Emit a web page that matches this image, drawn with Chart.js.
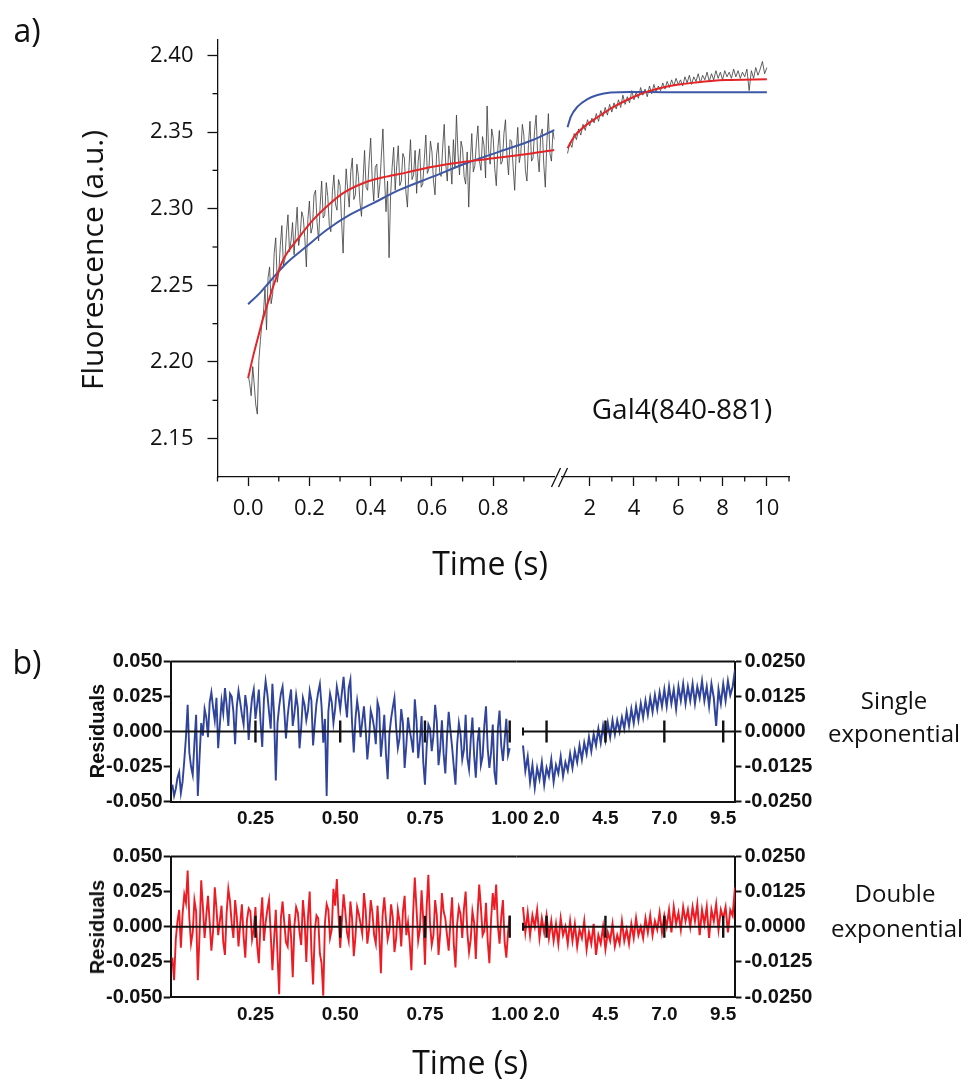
<!DOCTYPE html>
<html>
<head>
<meta charset="utf-8">
<script src="https://cdn.jsdelivr.net/npm/chart.js@4.4.1/dist/chart.umd.min.js"></script>
<style>
  body { margin: 0; background: #fff; }
  #page { position: relative; width: 968px; height: 1080px; overflow: hidden; font-family: 'Open Sans', sans-serif; color: #111; }
  #page canvas { position: absolute; left: 0; top: 0; }
  .t { position: absolute; white-space: nowrap; line-height: 1; transform: translate(-50%, -50%); }
  .rot { transform: translate(-50%, -50%) rotate(-90deg); }
  .res { font-family: 'Liberation Sans', Arial, sans-serif; font-weight: bold; font-size: 20px; }
  .note { font-size: 24px; text-align: center; }
</style>
</head>
<body>
<div id="page">
  <canvas id="topL" width="968" height="1080"></canvas>
  <canvas id="topR" width="968" height="1080"></canvas>
  <canvas id="r1L" width="968" height="1080"></canvas>
  <canvas id="r1R" width="968" height="1080"></canvas>
  <canvas id="r2L" width="968" height="1080"></canvas>
  <canvas id="r2R" width="968" height="1080"></canvas>

  <div class="t" style="left:27px; top:30px; font-size:32px;">a)</div>
  <div class="t rot" style="left:92px; top:260px; font-size:30px;">Fluorescence (a.u.)</div>
  <div class="t" style="left:682px; top:408px; font-size:28px;">Gal4(840-881)</div>
  <div class="t" style="left:490px; top:563px; font-size:32px;">Time (s)</div>

  <div class="t" style="left:27px; top:662px; font-size:32px;">b)</div>
  <div class="t rot res" style="left:97px; top:731px;">Residuals</div>
  <div class="t rot res" style="left:97px; top:927px;">Residuals</div>
  <div class="t note" style="left:894px; top:700px;">Single</div>
  <div class="t note" style="left:894px; top:733px;">exponential</div>
  <div class="t note" style="left:895px; top:893px;">Double</div>
  <div class="t note" style="left:897px; top:928px;">exponential</div>
  <div class="t" style="left:470px; top:1062px; font-size:32px;">Time (s)</div>
</div>

<script>
// ---- panel a: raw trace (0-1 s every 0.005 s, 1-10 s every 0.1 s)
const blackLeft = [
  2.192, 2.186, 2.178, 2.197, 2.185, 2.172, 2.166, 2.201, 2.214, 2.226,
  2.232, 2.248, 2.221, 2.255, 2.262, 2.238, 2.244, 2.271, 2.281, 2.252,
  2.258, 2.276, 2.289, 2.263, 2.267, 2.284, 2.296, 2.272, 2.279, 2.291,
  2.270, 2.286, 2.301, 2.276, 2.283, 2.298, 2.294, 2.281, 2.262, 2.293,
  2.305, 2.284, 2.288, 2.309, 2.312, 2.291, 2.279, 2.302, 2.318, 2.294,
  2.296, 2.317, 2.308, 2.289, 2.285, 2.311, 2.322, 2.303, 2.299, 2.319,
  2.315, 2.292, 2.271, 2.305, 2.326, 2.312, 2.301, 2.324, 2.333, 2.306,
  2.309, 2.329, 2.321, 2.304, 2.295, 2.318, 2.338, 2.314, 2.312, 2.331,
  2.346, 2.319, 2.305, 2.327, 2.329, 2.307, 2.316, 2.335, 2.352, 2.321,
  2.298, 2.318, 2.268, 2.309, 2.327, 2.340, 2.312, 2.328, 2.341, 2.315,
  2.318, 2.336, 2.333, 2.311, 2.301, 2.327, 2.345, 2.319, 2.322, 2.338,
  2.310, 2.331, 2.339, 2.314, 2.316, 2.332, 2.348, 2.323, 2.326, 2.344,
  2.337, 2.318, 2.309, 2.335, 2.343, 2.324, 2.321, 2.340, 2.355, 2.329,
  2.318, 2.341, 2.332, 2.316, 2.345, 2.327, 2.361, 2.336, 2.322, 2.344,
  2.339, 2.321, 2.316, 2.337, 2.301, 2.330, 2.349, 2.324, 2.328, 2.343,
  2.354, 2.331, 2.325, 2.347, 2.341, 2.320, 2.367, 2.338, 2.329, 2.352,
  2.346, 2.326, 2.315, 2.339, 2.351, 2.329, 2.331, 2.349, 2.358, 2.334,
  2.322, 2.345, 2.344, 2.327, 2.312, 2.337, 2.353, 2.330, 2.336, 2.355,
  2.348, 2.325, 2.318, 2.342, 2.357, 2.331, 2.333, 2.351, 2.361, 2.335,
  2.324, 2.348, 2.352, 2.329, 2.314, 2.343, 2.362, 2.336, 2.331, 2.350,
  2.345
];
const blackRight = [
  2.336, 2.343, 2.340, 2.349, 2.345, 2.352, 2.348, 2.355, 2.351, 2.358,
  2.354, 2.359, 2.356, 2.362, 2.357, 2.364, 2.360, 2.366, 2.361, 2.368,
  2.363, 2.369, 2.365, 2.371, 2.366, 2.374, 2.368, 2.373, 2.369, 2.377,
  2.371, 2.376, 2.372, 2.379, 2.374, 2.378, 2.373, 2.380, 2.375, 2.381,
  2.376, 2.380, 2.377, 2.382, 2.378, 2.383, 2.379, 2.384, 2.380, 2.385,
  2.381, 2.384, 2.380, 2.386, 2.382, 2.387, 2.381, 2.386, 2.383, 2.388,
  2.382, 2.387, 2.384, 2.389, 2.383, 2.388, 2.384, 2.390, 2.385, 2.389,
  2.384, 2.390, 2.386, 2.389, 2.385, 2.391, 2.386, 2.390, 2.385, 2.389,
  2.386, 2.391, 2.377, 2.390, 2.385, 2.392, 2.387, 2.391, 2.396, 2.388,
  2.392
];

// fits
const redLeftT = [0, 0.016, 0.033, 0.049, 0.071, 0.093, 0.114, 0.168, 0.212, 0.256, 0.31, 0.375, 0.451, 0.516, 0.603, 0.712, 0.82, 0.929, 1.0];
const redLeftV = [2.1895, 2.2035, 2.2166, 2.2286, 2.2427, 2.2557, 2.2666, 2.2818, 2.2927, 2.3013, 2.3101, 2.3166, 2.3209, 2.3235, 2.3274, 2.3307, 2.3333, 2.3361, 2.3383];
const blueLeftT = [0, 0.038, 0.071, 0.125, 0.19, 0.256, 0.331, 0.407, 0.494, 0.603, 0.712, 0.82, 0.929, 1.0];
const blueLeftV = [2.2377, 2.2449, 2.2525, 2.2644, 2.2753, 2.2861, 2.2959, 2.3035, 2.3122, 2.3209, 2.3296, 2.3372, 2.3448, 2.3513];
const redRightT = [1.0, 1.3, 1.75, 2.35, 3.1, 3.85, 4.6, 5.35, 6.1, 6.85, 7.6, 8.35, 10];
const redRightV = [2.3394, 2.347, 2.3535, 2.3596, 2.3665, 2.372, 2.3763, 2.3792, 2.3811, 2.3824, 2.3835, 2.3839, 2.3844];
const blueRightT = [1.0, 1.15, 1.45, 1.9, 2.35, 2.95, 3.85, 5.35, 10];
const blueRightV = [2.3531, 2.36, 2.3665, 2.3715, 2.3741, 2.3757, 2.3761, 2.376, 2.376];

// ---- panel b: residuals (0.005-1 s every 0.005 s, 1-10 s every 0.1 s)
const singleResLeft = [
  -0.038, -0.046, -0.041, -0.033, -0.029, -0.044, -0.036, -0.021, -0.004, 0.019, -0.015, -0.025, -0.031, -0.008, 0.012, -0.046, -0.019, 0.006, -0.003, 0.016,
  0.010, -0.004, 0.021, 0.028, 0.017, 0.008, 0.024, -0.012, 0.005, 0.022, 0.013, 0.031, 0.019, 0.004, 0.027, 0.025, 0.014, -0.009, 0.018, 0.029,
  0.021, 0.012, 0.005, 0.026, 0.017, -0.006, 0.011, 0.024, 0.030, 0.009, 0.019, 0.030, 0.007, -0.011, 0.023, 0.036, 0.027, 0.014, 0.002, 0.034,
  0.012, -0.035, 0.006, 0.018, 0.027, 0.032, 0.015, -0.005, 0.011, 0.022, 0.030, 0.004, 0.013, 0.026, 0.017, -0.012, 0.003, 0.024, 0.019, 0.008,
  0.015, 0.029, 0.022, -0.010, 0.006, 0.020, 0.028, 0.034, 0.018, -0.008, 0.009, -0.046, 0.014, 0.027, 0.021, 0.006, 0.016, 0.032, 0.025, 0.016,
  0.028, 0.039, 0.022, 0.010, 0.031, 0.037, 0.006, -0.015, 0.009, 0.022, 0.013, -0.004, 0.007, 0.018, 0.002, -0.020, -0.006, 0.015, 0.010, 0.003,
  -0.009, 0.021, 0.016, -0.018, -0.004, 0.012, -0.016, -0.034, -0.002, 0.009, 0.017, 0.024, 0.003, -0.012, -0.005, 0.016, 0.006, -0.026, -0.010, 0.010,
  0.001, -0.006, -0.015, 0.023, 0.008, -0.019, -0.007, 0.011, -0.022, -0.038, -0.011, 0.005, 0.002, -0.014, -0.003, 0.019, 0.007, -0.024, -0.012, 0.008,
  -0.016, -0.030, -0.004, 0.014, 0.001, -0.011, -0.025, -0.038, -0.009, 0.006, -0.002, -0.020, -0.013, 0.012, -0.019, -0.027, -0.006, 0.010, -0.017, -0.033,
  -0.008, 0.003, -0.024, -0.018, 0.004, 0.018, -0.012, -0.026, -0.015, 0.005, -0.029, -0.038, 0.002, 0.015, -0.010, -0.021, -0.006, 0.009, -0.017, -0.012
];
const singleResRight = [
  -0.005, -0.014, -0.009, -0.018, -0.012, -0.020, -0.013, -0.017, -0.011, -0.019, -0.013,
  -0.016, -0.010, -0.018, -0.012, -0.015, -0.009, -0.016, -0.011, -0.014, -0.008,
  -0.013, -0.007, -0.011, -0.005, -0.010, -0.004, -0.008, -0.002, -0.007, -0.001,
  -0.005, 0.001, -0.004, 0.002, -0.003, 0.003, -0.002, 0.004, -0.001, 0.004,
  0.000, 0.005, 0.001, 0.007, 0.002, 0.008, 0.003, 0.009, 0.004, 0.010,
  0.005, 0.011, 0.006, 0.012, 0.007, 0.013, 0.008, 0.014, 0.009, 0.015,
  0.009, 0.016, 0.010, 0.015, 0.008, 0.016, 0.011, 0.017, 0.010, 0.016,
  0.011, 0.017, 0.010, 0.016, 0.012, 0.018, 0.011, 0.016, 0.009, 0.017,
  0.012, 0.002, 0.015, 0.010, 0.017, 0.011, 0.018, 0.013, 0.016, 0.022
];
const doubleResLeft = [
  -0.022, -0.038, -0.009, 0.004, 0.012, -0.015, 0.009, 0.023, 0.017, 0.040, 0.006, -0.012, -0.004, 0.019, 0.011, -0.038, -0.006, 0.033, 0.014, -0.008,
  0.008, 0.022, 0.003, -0.017, -0.003, 0.028, 0.013, -0.006, 0.004, 0.015, -0.011, -0.020, 0.010, 0.027, 0.018, 0.002, -0.008, 0.019, 0.007, -0.014,
  0.002, 0.016, -0.007, -0.022, 0.005, 0.013, 0.011, -0.009, -0.002, 0.014, -0.013, -0.026, 0.004, 0.021, -0.010, 0.003, 0.012, 0.019, -0.005, -0.031,
  -0.009, 0.012, -0.020, -0.048, 0.006, 0.018, 0.003, -0.011, -0.014, 0.009, -0.007, -0.036, 0.001, 0.014, 0.010, -0.004, -0.013, 0.019, 0.005, -0.025,
  0.007, 0.025, -0.017, -0.041, -0.003, 0.008, 0.006, -0.019, -0.026, -0.049, 0.003, 0.016, 0.012, -0.008, -0.002, 0.027, 0.015, 0.034, 0.008, -0.015,
  0.004, 0.023, 0.011, -0.004, -0.010, 0.018, 0.006, -0.021, -0.007, 0.014, 0.009, 0.002, -0.005, 0.024, 0.012, -0.012, -0.002, 0.019, 0.010, -0.006,
  -0.012, 0.015, -0.004, -0.033, 0.008, 0.021, 0.005, -0.009, -0.003, 0.016, 0.007, -0.018, -0.008, 0.012, 0.004, -0.014, 0.011, 0.022, -0.006, 0.003,
  -0.011, -0.031, 0.009, 0.035, 0.013, -0.010, -0.002, 0.026, 0.005, -0.027, 0.014, 0.037, 0.002, -0.013, -0.006, 0.019, 0.008, -0.020, -0.004, 0.024,
  0.011, 0.006, -0.006, -0.017, 0.003, 0.021, -0.012, -0.029, 0.002, 0.014, 0.009, -0.008, 0.013, 0.025, -0.004, -0.018, -0.009, 0.011, 0.003, -0.023,
  0.008, 0.030, 0.014, -0.006, -0.003, 0.017, -0.010, -0.026, 0.005, 0.024, 0.012, 0.030, 0.001, -0.012, 0.007, 0.019, -0.011, -0.022, -0.004, 0.008
];
const doubleResRight = [
  0.007, -0.002, 0.005, -0.003, 0.004, 0.000, 0.006, -0.004, 0.003, -0.002, 0.004,
  -0.004, 0.002, -0.005, 0.001, -0.006, 0.003, -0.003, 0.000, -0.006, 0.002,
  -0.005, 0.001, -0.007, -0.001, -0.004, 0.002, -0.008, -0.002, -0.006, 0.001,
  -0.010, -0.003, -0.006, 0.000, -0.008, -0.002, -0.005, 0.001, -0.007, -0.003,
  -0.006, 0.002, -0.005, -0.001, -0.006, 0.001, -0.004, 0.003, -0.003, 0.000,
  -0.004, 0.003, -0.002, 0.004, -0.003, 0.002, -0.001, 0.005, -0.002, 0.004,
  0.000, 0.006, -0.002, 0.007, 0.001, 0.005, -0.001, 0.007, 0.002, 0.006,
  0.000, 0.007, 0.002, 0.008, -0.003, 0.006, 0.001, 0.007, -0.004, 0.006,
  0.002, 0.008, -0.001, 0.006, 0.003, 0.007, -0.002, 0.006, 0.004, 0.014
];

// ---- tick values
const yTicksA = [2.15, 2.20, 2.25, 2.30, 2.35, 2.40];
const yMinorA = [2.175, 2.225, 2.275, 2.325, 2.375];
const xTicksAL = [0.0, 0.2, 0.4, 0.6, 0.8];
const xMinorAL = [-0.1, 0.1, 0.3, 0.5, 0.7, 0.9];
const xTicksAR = [2, 4, 6, 8, 10];
const xMinorAR = [3, 5, 7, 9, 11];
const resTicksL = [-0.05, -0.025, 0, 0.025, 0.05];
const resTicksR = [-0.025, -0.0125, 0, 0.0125, 0.025];
const resXTicksL = [0.25, 0.50, 0.75, 1.00];
const resXTicksR = [2.0, 4.5, 7.0, 9.5];

const W = 968, H = 1080;
const ink = '#111';
const sansA = "'Open Sans', sans-serif";
const boldY = { family: "'Liberation Sans', Arial, sans-serif", size: 20, weight: 'bold' };
const boldX = { family: "'Liberation Sans', Arial, sans-serif", size: 19, weight: 'bold' };

const pts = (ts, vs) => vs.map((v, i) => ({ x: ts[i], y: v }));
const tBL = blackLeft.map((_, i) => i * 0.005);
const tBR = blackRight.map((_, i) => 1 + i * 0.1);
const tRL = singleResLeft.map((_, i) => 0.005 + i * 0.005);
const tRR = singleResRight.map((_, i) => 1 + i * 0.1);

function axis(o) {
  return {
    type: 'linear', position: o.pos, min: o.min, max: o.max, display: o.show !== false,
    afterBuildTicks: s => { s.ticks = o.ticks.map(v => ({ value: v })); },
    afterFit: s => { if (s.isHorizontal()) s.height = o.fit; else s.width = o.fit; },
    grid: { drawOnChartArea: false, drawTicks: o.len > 0, tickLength: o.len || 0, tickWidth: o.lw, tickColor: ink },
    border: { display: true, color: ink, width: o.lw },
    ticks: { font: o.font, color: ink, padding: o.pad, autoSkip: false, maxRotation: 0, callback: v => v.toFixed(o.dec) }
  };
}

// minor ticks, axis break, box top and the zero axis with crossing ticks
function deco(o) {
  return {
    id: 'deco',
    afterDraw(chart) {
      const c = chart.ctx, a = chart.chartArea, sx = chart.scales.x, sy = chart.scales.y;
      const seg = (x1, y1, x2, y2, w) => { c.lineWidth = w; c.beginPath(); c.moveTo(x1, y1); c.lineTo(x2, y2); c.stroke(); };
      c.save();
      c.strokeStyle = ink;
      (o.minorX || []).forEach(v => { const p = sx.getPixelForValue(v); seg(p, a.bottom, p, a.bottom + 4.5, 1.3); });
      (o.minorY || []).forEach(v => { const p = sy.getPixelForValue(v); seg(a.left - 5, p, a.left, p, 1.3); });
      if (o.brk) {
        seg(a.right - 3, a.bottom + 10, a.right + 6, a.bottom - 9, 1.3);
        seg(a.right + 4, a.bottom + 10, a.right + 13, a.bottom - 9, 1.3);
      }
      if (o.top) seg(a.left, a.top, a.right, a.top, 2);
      if (o.zero) {
        const y0 = sy.getPixelForValue(0);
        const x1 = sx.getPixelForValue(o.zero[0]), x2 = sx.getPixelForValue(o.zero[1]);
        seg(x1, y0, x2, y0, 2);
        sx.ticks.forEach(t => { const p = sx.getPixelForValue(t.value); seg(p, y0 - 11, p, y0 + 11, 2.4); });
        if (o.cap) seg(x1, y0 - 4, x1, y0 + 4, 2);
      }
      c.restore();
    }
  };
}

function base(pad, scales, datasets, plug) {
  return {
    type: 'line',
    data: { datasets },
    options: {
      responsive: false, animation: false, events: [],
      layout: { padding: pad },
      plugins: { legend: { display: false }, tooltip: { enabled: false } },
      elements: { point: { radius: 0 } },
      scales
    },
    plugins: [plug]
  };
}

function line(data, color, width, order, smooth) {
  return { data, borderColor: color, borderWidth: width, pointRadius: 0, fill: false, order,
           tension: 0, cubicInterpolationMode: smooth ? 'monotone' : 'default' };
}

// ---- panel a, left part (0-1 s)
new Chart(document.getElementById('topL'), base(
  { left: 217.5 - 120, top: 40, right: W - 554.5, bottom: H - 477 - 60 },
  {
    x: axis({ pos: 'bottom', min: -0.1, max: 1.0, ticks: xTicksAL, dec: 1, fit: 60, len: 9, lw: 1.3, pad: 10, font: { family: sansA, size: 22 } }),
    y: axis({ pos: 'left', min: 2.125, max: 2.41, ticks: yTicksA, dec: 2, fit: 120, len: 10, lw: 1.3, pad: 14, font: { family: sansA, size: 22 } })
  },
  [
    line(pts(redLeftT, redLeftV), '#e42528', 2, 1, true),
    line(pts(blueLeftT, blueLeftV), '#3d57a7', 2, 2, true),
    line(pts(tBL, blackLeft), '#3a3a3a', 0.8, 3, false)
  ],
  deco({ minorX: xMinorAL, minorY: yMinorA, brk: true })
));

// ---- panel a, right part (1-10 s)
new Chart(document.getElementById('topR'), base(
  { left: 562, top: 40, right: W - 789, bottom: H - 477 - 60 },
  {
    x: axis({ pos: 'bottom', min: 0.75, max: 11, ticks: xTicksAR, dec: 0, fit: 60, len: 9, lw: 1.3, pad: 10, font: { family: sansA, size: 22 } }),
    y: axis({ pos: 'left', min: 2.125, max: 2.41, ticks: yTicksA, dec: 2, fit: 0, show: false })
  },
  [
    line(pts(redRightT, redRightV), '#e42528', 2, 1, true),
    line(pts(blueRightT, blueRightV), '#3d57a7', 2, 2, true),
    line(pts(tBR, blackRight), '#3a3a3a', 0.8, 3, false)
  ],
  deco({ minorX: xMinorAR })
));

// ---- panel b, residual boxes
function residuals(idL, idR, top, bottom, left, right, color) {
  new Chart(document.getElementById(idL), base(
    { left: 170.7 - 80, top: top, right: W - 516.5, bottom: H - bottom - 40 },
    {
      x: axis({ pos: 'bottom', min: 0, max: 1.02, ticks: resXTicksL, dec: 2, fit: 40, len: 0, lw: 2, pad: 6, font: boldX }),
      y: axis({ pos: 'left', min: -0.05, max: 0.05, ticks: resTicksL, dec: 3, fit: 80, len: 7, lw: 2, pad: 1, font: boldY })
    },
    [line(pts(tRL, left), color, 1.9, 1, false)],
    deco({ top: true, zero: [0, 1.0] })
  ));
  new Chart(document.getElementById(idR), base(
    { left: 516.5, top: top, right: W - 735 - 90, bottom: H - bottom - 40 },
    {
      x: axis({ pos: 'bottom', min: 0.724, max: 10, ticks: resXTicksR, dec: 1, fit: 40, len: 0, lw: 2, pad: 6, font: boldX }),
      y: axis({ pos: 'right', min: -0.025, max: 0.025, ticks: resTicksR, dec: 4, fit: 90, len: 6.5, lw: 2, pad: 3, font: boldY })
    },
    [line(pts(tRR, right), color, 2, 1, false)],
    deco({ top: true, zero: [1.0, 10], cap: true })
  ));
}

residuals('r1L', 'r1R', 661.5, 801.5, singleResLeft, singleResRight, '#31449b');
residuals('r2L', 'r2R', 856.5, 997, doubleResLeft, doubleResRight, '#ed1c24');
</script>
</body>
</html>
